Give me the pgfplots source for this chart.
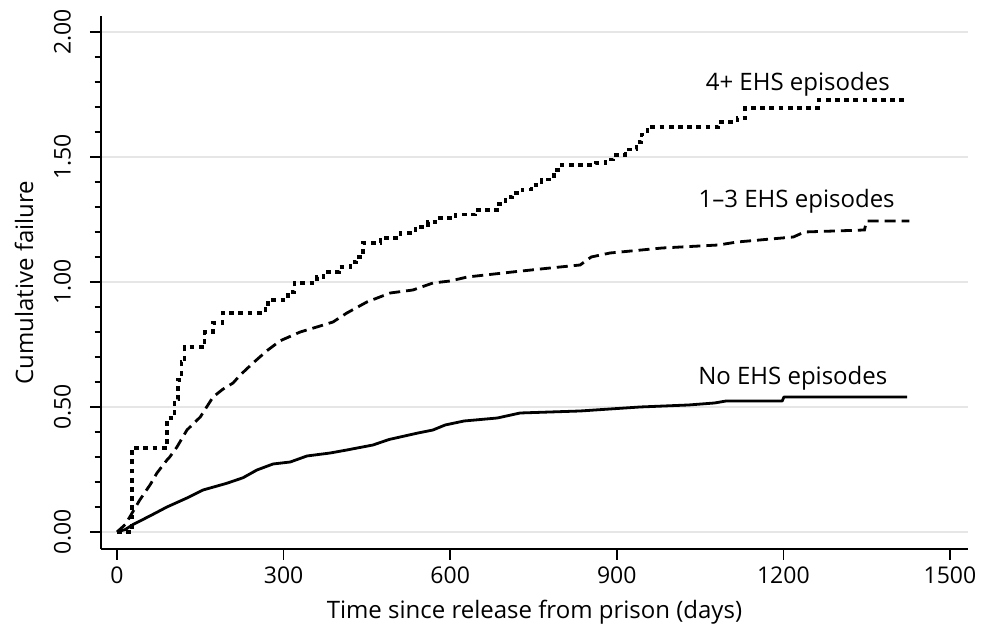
\documentclass[border=0pt]{standalone}
\usepackage{fontspec}
\setmainfont{Open Sans}
\usepackage{pgfplots}
\pgfplotsset{compat=1.18}
\definecolor{gridgray}{RGB}{230,230,230}

\begin{document}
\begin{tikzpicture}
\begin{axis}[
  scale only axis, width=433.5pt, height=266.5pt,
  at={(0,0)}, anchor=south west,
  xmin=-28.8, xmax=1532.5, ymin=-0.068, ymax=2.064,
  axis lines=left, axis line style={-, line width=0.75pt},
  xtick={0,300,...,1500}, ytick={0,0.5,...,2},
  minor y tick num=4,
  tick align=outside, major tick length=5.5pt, minor tick length=3.2pt,
  tick style={line width=0.75pt, black},
  ymajorgrids, major grid style={gridgray, line width=1pt},
  /pgf/number format/assume math mode=true,
  ticklabel style={font=\fontsize{11.5}{13}\selectfont},
  xticklabel style={/pgf/number format/1000 sep={}},
  yticklabel shift=6pt,
  yticklabel style={rotate=90, anchor=south,
    /pgf/number format/fixed, /pgf/number format/fixed zerofill,
    /pgf/number format/precision=2},
  xlabel={Time since release from prison (days)},
  ylabel={Cumulative failure},
  every axis x label/.style={at={(axis description cs:0.5,-0.131)}, anchor=base,
    font=\fontsize{12}{14}\selectfont},
  every axis y label/.style={at={(axis description cs:-0.0784,0.5)}, rotate=90, anchor=base,
    font=\fontsize{12}{14}\selectfont},
  clip=false,
]
% no EHS episodes
\addplot[black, line width=1.4pt, line join=round] table {
x y
0 0
15 0.01
29 0.03
60 0.065
90 0.10
126 0.136
155 0.168
198 0.195
227 0.217
252 0.248
281 0.272
312 0.28
342 0.304
384 0.316
414 0.328
461 0.348
490 0.37
510 0.38
540 0.395
569 0.408
591 0.428
625 0.444
685 0.456
726 0.476
834 0.484
888 0.492
942 0.50
1029 0.508
1076 0.516
1097 0.524
1198 0.524
1201 0.54
1423 0.54
};
% 1-3 EHS episodes
\addplot[black, line width=1.4pt, dash pattern=on 5.5pt off 3pt] table {
x y
0 0
15 0.03
23 0.06
41 0.128
60 0.19
72 0.236
90 0.288
95 0.30
108 0.34
126 0.408
150 0.46
173 0.54
190 0.57
209 0.596
222 0.628
245 0.676
270 0.725
294 0.765
330 0.80
360 0.82
389 0.84
414 0.876
450 0.92
492 0.956
533 0.968
569 0.996
600 1.004
631 1.02
712 1.04
780 1.056
834 1.068
854 1.10
888 1.116
982 1.136
1083 1.148
1117 1.16
1218 1.18
1238 1.20
1346 1.208
1350 1.244
1427 1.244
};
% 4+ EHS episodes
\addplot[black, line width=1.6pt, const plot, dash pattern=on 2.4pt off 2.2pt] table {
x y
0 0
27 0.336
90 0.456
104 0.53
110 0.608
116 0.68
122 0.74
158 0.80
173 0.836
190 0.876
267 0.90
272 0.928
308 0.96
320 0.996
360 1.02
372 1.04
400 1.06
420 1.08
432 1.10
443 1.156
474 1.176
510 1.196
537 1.22
560 1.24
577 1.256
610 1.27
645 1.288
685 1.312
700 1.34
712 1.356
730 1.37
746 1.388
765 1.41
787 1.448
800 1.468
861 1.476
880 1.49
894 1.508
915 1.53
935 1.56
945 1.59
955 1.62
1083 1.64
1117 1.656
1131 1.696
1263 1.728
1422 1.728
};
\node[anchor=base, font=\fontsize{12}{14}\selectfont] at (axis cs:1226,1.764) {4+ EHS episodes};
\node[anchor=base, font=\fontsize{12}{14}\selectfont] at (axis cs:1224,1.296) {1--3 EHS episodes};
\node[anchor=base, font=\fontsize{12}{14}\selectfont] at (axis cs:1217,0.588) {No EHS episodes};
\end{axis}
\pgfresetboundingbox
\path[use as bounding box] (-50.5pt,-43pt) rectangle (440pt,274.5pt);
\end{tikzpicture}
\end{document}
